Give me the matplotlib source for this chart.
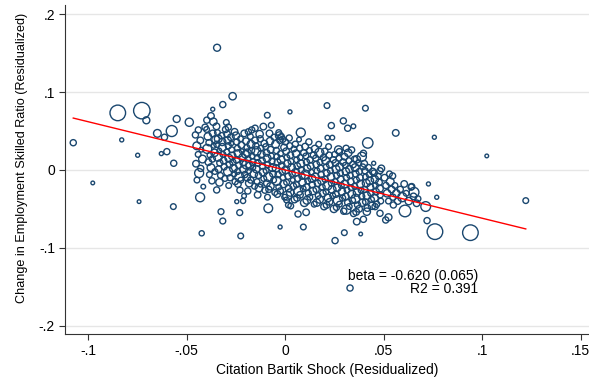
import matplotlib
matplotlib.use("Agg")
import matplotlib.pyplot as plt
import numpy as np

# outlying points
out_x = [-0.1075, -0.0976, -0.0849, -0.0727, -0.0704, -0.0829, -0.0748, -0.0741, -0.0648, -0.0575,
         -0.0550, -0.0486, -0.0565, -0.0628, -0.0600, -0.0612, -0.0567, -0.0431, -0.0415, -0.0325,
         -0.0316, -0.0423, -0.0225, -0.0230, -0.0213, -0.0085, -0.0025, 0.0093, 0.0066, 0.0107,
         0.0008, 0.0017, 0.0029, -0.0345, -0.0266, -0.0316, -0.0367, -0.0090, -0.0070, -0.0110,
         0.0025, 0.0080, 0.0213, 0.0408, 0.0235, 0.0296, 0.0318, 0.0347, 0.0562, 0.0758,
         0.1024, 0.0420, 0.0215, 0.0240, 0.0728, 0.0770, 0.0643, 0.0655, 0.0668, 0.0714,
         0.0609, 0.0550, 0.0525, 0.0511, 0.0721, 0.0761, 0.0941, 0.0384, 0.0301, 0.0254,
         0.0330, 0.1222, 0.0364, 0.0398, 0.0415, 0.0482, 0.0457, -0.0288, -0.0376, -0.0364,
         -0.0397, -0.0032, -0.0019, -0.0012, -0.0152, -0.0169, -0.0186, 0.0482, 0.0546, 0.0450,
         0.0338, 0.0310, 0.0276, 0.0398, 0.0364, 0.0390, -0.0347, -0.0245, -0.0208, -0.0440,
         -0.0406]
out_y = [0.0350, -0.0167, 0.0733, 0.0762, 0.0638, 0.0386, 0.0189, -0.0407, 0.0470, 0.0500,
         0.0655, 0.0613, 0.0086, 0.0210, 0.0235, 0.0420, -0.0471, -0.0351, -0.0214, -0.0536,
         -0.0656, -0.0814, -0.0848, -0.0548, -0.0398, -0.0493, -0.0733, -0.0733, -0.0566, -0.0544,
         -0.0386, -0.0450, -0.0463, 0.1570, 0.0947, 0.0840, 0.0780, 0.0703, 0.0574, 0.0557,
         0.0746, 0.0480, 0.0827, 0.0793, 0.0570, 0.0630, 0.0536, 0.0561, 0.0476, 0.0420,
         0.0180, 0.0347, 0.0415, 0.0415, -0.0180, -0.0351, -0.0214, -0.0287, -0.0428, -0.0470,
         -0.0527, -0.0450, -0.0608, -0.0643, -0.0651, -0.0793, -0.0806, -0.0823, -0.0806, -0.0908,
         -0.1517, -0.0394, -0.0664, -0.0634, -0.0536, -0.0557, -0.0471, 0.0549, 0.0694, 0.0620,
         0.0640, 0.0480, 0.0428, 0.0394, 0.0536, 0.0514, 0.0490, -0.0010, -0.0077, 0.0086,
         0.0257, 0.0278, 0.0235, 0.0214, 0.0137, 0.0170, -0.0257, -0.0407, -0.0334, 0.0514,
         0.0549]
out_s = [14, 5, 90, 100, 18, 6, 6, 5, 22, 45,
         18, 25, 14, 6, 14, 14, 12, 30, 8, 13,
         13, 10, 12, 13, 10, 28, 6, 12, 14, 16,
         12, 12, 12, 18, 20, 14, 6, 12, 12, 16,
         6, 30, 12, 12, 14, 14, 14, 8, 16, 6,
         5, 40, 8, 8, 6, 6, 14, 35, 16, 35,
         50, 14, 18, 14, 14, 90, 90, 5, 12, 14,
         14, 12, 16, 14, 20, 14, 14, 14, 16, 20,
         14, 12, 14, 14, 14, 14, 14, 14, 14, 6,
         14, 14, 14, 14, 20, 30, 14, 6, 8, 14,
         14]

# dense cluster, left part (x < -0.02)
left_x = [-0.0455, -0.0448, -0.0441, -0.0452, -0.0436, -0.0447, -0.0430, -0.0425, -0.0419, -0.0428,
          -0.0398, -0.0392, -0.0386, -0.0395, -0.0381, -0.0389, -0.0376, -0.0384, -0.0371, -0.0367,
          -0.0362, -0.0358, -0.0369, -0.0356, -0.0352,
          -0.0348, -0.0343, -0.0339, -0.0346, -0.0334, -0.0341, -0.0331, -0.0337, -0.0328, -0.0333,
          -0.0322, -0.0318, -0.0315, -0.0312, -0.0309, -0.0305, -0.0319, -0.0302,
          -0.0298, -0.0294, -0.0291, -0.0288, -0.0296, -0.0285, -0.0282, -0.0289, -0.0279, -0.0286,
          -0.0275, -0.0271, -0.0268, -0.0265, -0.0262, -0.0259, -0.0273, -0.0256, -0.0253,
          -0.0249, -0.0245, -0.0242, -0.0238, -0.0246, -0.0235, -0.0241, -0.0232, -0.0239, -0.0229,
          -0.0226, -0.0222, -0.0219, -0.0216, -0.0213, -0.0210, -0.0224, -0.0207, -0.0204, -0.0201]
left_y = [0.045, 0.031, 0.020, 0.008, -0.004, -0.013, 0.038, 0.026, 0.014, 0.002,
          0.052, 0.043, 0.035, 0.027, 0.019, 0.010, 0.003, -0.006, -0.014, 0.047,
          0.031, 0.022, 0.014, -0.002, 0.039,
          0.056, 0.048, 0.040, 0.033, 0.025, 0.017, 0.009, 0.001, -0.007, -0.016,
          0.044, 0.029, 0.020, 0.012, 0.004, -0.011, 0.036, 0.052,
          0.061, 0.046, 0.038, 0.031, 0.023, 0.015, 0.007, -0.002, -0.010, -0.020,
          0.042, 0.026, 0.018, 0.010, 0.002, -0.005, 0.034, 0.049, -0.015,
          0.044, 0.036, 0.028, 0.021, 0.013, 0.006, -0.002, -0.009, -0.018, -0.026,
          0.040, 0.032, 0.024, 0.016, 0.009, 0.001, -0.013, 0.047, -0.006, 0.020]
left_s = [14, 22, 12, 16, 30, 12, 16, 8, 22, 14,
          12, 20, 14, 30, 12, 16, 22, 12, 14, 16,
          8, 20, 14, 12, 22,
          16, 12, 22, 14, 8, 30, 14, 16, 12, 20,
          14, 22, 12, 16, 14, 12, 20, 14,
          12, 16, 20, 14, 12, 22, 16, 30, 14, 12,
          16, 12, 20, 14, 22, 12, 8, 16, 14,
          20, 14, 12, 22, 16, 14, 12, 30, 16, 14,
          12, 16, 8, 20, 14, 22, 12, 16, 14, 20]

# dense cluster, middle part (-0.02 < x < 0.005)
mid_x = [-0.0198, -0.0194, -0.0191, -0.0188, -0.0196, -0.0185, -0.0192, -0.0182, -0.0189, -0.0176,
         -0.0173, -0.0170, -0.0167, -0.0164, -0.0161, -0.0158, -0.0174, -0.0155, -0.0179, -0.0152,
         -0.0148, -0.0145, -0.0141, -0.0138, -0.0146, -0.0135, -0.0142, -0.0132, -0.0139, -0.0126,
         -0.0123, -0.0120, -0.0117, -0.0114, -0.0111, -0.0108, -0.0124, -0.0105, -0.0129, -0.0102,
         -0.0098, -0.0094, -0.0091, -0.0088, -0.0096, -0.0085, -0.0092, -0.0082, -0.0089, -0.0076,
         -0.0073, -0.0070, -0.0067, -0.0064, -0.0061, -0.0058, -0.0074, -0.0055, -0.0079, -0.0052,
         -0.0048, -0.0044, -0.0041, -0.0038, -0.0046, -0.0035, -0.0042, -0.0032, -0.0039, -0.0026,
         -0.0023, -0.0020, -0.0017, -0.0014, -0.0011, -0.0008, -0.0024, -0.0005, -0.0029, -0.0002,
         0.0002, 0.0006, 0.0009, 0.0012, 0.0004, 0.0015, 0.0008, 0.0018, 0.0011, 0.0024,
         0.0027, 0.0030, 0.0033, 0.0036, 0.0039, 0.0042, 0.0026, 0.0045, 0.0021, 0.0048]
mid_y = [0.037, 0.029, 0.022, 0.014, 0.007, -0.001, -0.010, -0.017, -0.027, 0.043,
         0.033, 0.025, 0.018, 0.010, 0.003, -0.005, -0.013, -0.021, 0.005, 0.038,
         0.031, 0.024, 0.016, 0.009, 0.001, -0.007, -0.015, -0.023, -0.032, 0.040,
         0.028, 0.020, 0.012, 0.005, -0.003, -0.011, -0.019, 0.034, 0.046, -0.026,
         0.030, 0.022, 0.015, 0.007, -0.001, -0.009, -0.017, -0.025, -0.035, 0.037,
         0.026, 0.018, 0.011, 0.003, -0.005, -0.013, -0.021, 0.042, 0.047, -0.029,
         0.033, 0.025, 0.017, 0.010, 0.002, -0.006, -0.014, -0.022, -0.031, 0.038,
         0.021, 0.013, 0.006, -0.002, -0.010, -0.018, -0.027, 0.029, 0.044, -0.035,
         0.036, 0.024, 0.016, 0.008, 0.000, -0.008, -0.016, -0.024, -0.033, 0.031,
         0.019, 0.011, 0.003, -0.005, -0.013, -0.021, -0.029, 0.027, 0.041, -0.038]
mid_s = [16, 12, 22, 14, 30, 12, 16, 20, 14, 12,
         22, 14, 12, 16, 8, 20, 14, 12, 22, 16,
         14, 30, 12, 16, 20, 14, 12, 22, 16, 14,
         12, 20, 16, 14, 22, 12, 8, 16, 20, 14,
         12, 16, 22, 14, 12, 30, 16, 14, 12, 20,
         16, 12, 14, 22, 16, 12, 20, 14, 16, 12,
         22, 14, 12, 16, 20, 14, 30, 12, 16, 14,
         12, 22, 16, 14, 12, 20, 14, 16, 22, 12,
         14, 16, 12, 20, 22, 14, 12, 16, 30, 14,
         16, 12, 22, 14, 8, 16, 20, 12, 14, 16]

# dense cluster, right part (0.005 < x < 0.03)
right_x = [0.0052, 0.0056, 0.0059, 0.0062, 0.0054, 0.0065, 0.0058, 0.0068, 0.0061, 0.0074,
           0.0077, 0.0080, 0.0083, 0.0086, 0.0089, 0.0092, 0.0076, 0.0095, 0.0071, 0.0098,
           0.0102, 0.0106, 0.0109, 0.0112, 0.0104, 0.0115, 0.0108, 0.0118, 0.0111, 0.0124,
           0.0127, 0.0130, 0.0133, 0.0136, 0.0139, 0.0142, 0.0126, 0.0145, 0.0121, 0.0148,
           0.0152, 0.0156, 0.0159, 0.0162, 0.0154, 0.0165, 0.0158, 0.0168, 0.0161, 0.0174,
           0.0177, 0.0180, 0.0183, 0.0186, 0.0189, 0.0192, 0.0176, 0.0195, 0.0171, 0.0198,
           0.0202, 0.0206, 0.0209, 0.0212, 0.0204, 0.0215, 0.0208, 0.0218, 0.0211, 0.0224,
           0.0227, 0.0230, 0.0233, 0.0236, 0.0239, 0.0242, 0.0226, 0.0245, 0.0221, 0.0248,
           0.0252, 0.0256, 0.0259, 0.0262, 0.0254, 0.0265, 0.0258, 0.0268, 0.0261, 0.0274,
           0.0277, 0.0280, 0.0283, 0.0286, 0.0289, 0.0292, 0.0276, 0.0295, 0.0271, 0.0298]
right_y = [0.033, 0.021, 0.013, 0.005, -0.003, -0.011, -0.019, -0.027, -0.036, 0.028,
           0.016, 0.008, 0.000, -0.008, -0.016, -0.024, -0.032, 0.022, 0.039, -0.042,
           0.030, 0.018, 0.010, 0.002, -0.006, -0.014, -0.022, -0.030, -0.039, 0.025,
           0.013, 0.005, -0.003, -0.011, -0.019, -0.027, -0.035, 0.019, 0.036, -0.044,
           0.027, 0.015, 0.007, -0.001, -0.009, -0.017, -0.025, -0.033, -0.042, 0.022,
           0.010, 0.002, -0.006, -0.014, -0.022, -0.030, -0.038, 0.016, 0.033, -0.047,
           0.024, 0.012, 0.004, -0.004, -0.012, -0.020, -0.028, -0.036, -0.045, 0.019,
           0.007, -0.001, -0.009, -0.017, -0.025, -0.033, -0.041, 0.013, 0.030, -0.050,
           0.020, 0.009, 0.001, -0.007, -0.015, -0.023, -0.031, -0.039, -0.048, 0.015,
           0.004, -0.004, -0.012, -0.020, -0.028, -0.036, -0.044, 0.010, 0.026, -0.053]
right_s = [14, 20, 12, 16, 22, 14, 12, 30, 16, 14,
           12, 22, 16, 14, 20, 12, 16, 14, 8, 22,
           16, 12, 14, 20, 30, 12, 16, 14, 22, 12,
           14, 16, 12, 22, 14, 20, 12, 16, 14, 12,
           20, 14, 16, 12, 22, 16, 14, 12, 20, 30,
           12, 16, 14, 22, 12, 16, 20, 14, 12, 16,
           14, 22, 12, 16, 14, 30, 12, 20, 16, 14,
           16, 12, 20, 14, 22, 12, 16, 14, 12, 20,
           12, 16, 22, 14, 12, 20, 16, 30, 14, 12,
           22, 14, 16, 12, 20, 14, 12, 16, 22, 14]

# dense cluster, far right part (x > 0.03)
far_x = [0.0302, 0.0306, 0.0309, 0.0312, 0.0304, 0.0315, 0.0308, 0.0318, 0.0311, 0.0324,
         0.0327, 0.0330, 0.0333, 0.0336, 0.0339, 0.0342, 0.0326, 0.0345, 0.0321, 0.0348,
         0.0352, 0.0356, 0.0359, 0.0362, 0.0354, 0.0365, 0.0358, 0.0368, 0.0361, 0.0374,
         0.0377, 0.0380, 0.0383, 0.0386, 0.0389, 0.0392, 0.0376, 0.0395,
         0.0402, 0.0406, 0.0409, 0.0412, 0.0404, 0.0415, 0.0408, 0.0418, 0.0424, 0.0427,
         0.0430, 0.0433, 0.0436, 0.0439, 0.0442, 0.0445,
         0.0452, 0.0456, 0.0459, 0.0462, 0.0454, 0.0465, 0.0474, 0.0477, 0.0480, 0.0483,
         0.0486, 0.0489,
         0.0505, 0.0512, 0.0518, 0.0525, 0.0534, 0.0541, 0.0548, 0.0558, 0.0565, 0.0572,
         0.0585, 0.0595, 0.0530,
         0.0605, 0.0615, 0.0628, 0.0640, 0.0652, 0.0675]
far_y = [0.017, 0.006, -0.002, -0.010, -0.018, -0.026, -0.034, -0.042, -0.051, 0.012,
         0.001, -0.007, -0.015, -0.023, -0.031, -0.039, -0.047, 0.007, 0.022, -0.056,
         0.014, 0.003, -0.005, -0.013, -0.021, -0.029, -0.037, -0.045, -0.054, 0.009,
         -0.002, -0.010, -0.018, -0.026, -0.034, -0.042, -0.050, 0.004,
         0.008, -0.001, -0.009, -0.017, -0.025, -0.033, -0.041, -0.049, 0.003, -0.006,
         -0.014, -0.022, -0.030, -0.038, -0.046, -0.002,
         -0.004, -0.012, -0.020, -0.028, -0.036, -0.044, -0.008, -0.016, -0.024, -0.032,
         -0.040, 0.002,
         -0.010, -0.020, -0.030, -0.040, -0.015, -0.025, -0.035, -0.020, -0.030, -0.040,
         -0.025, -0.035, -0.005,
         -0.018, -0.030, -0.040, -0.022, -0.034, -0.037]
far_s = [16, 12, 20, 14, 22, 12, 16, 14, 30, 12,
         20, 14, 16, 12, 22, 14, 12, 16, 20, 14,
         12, 22, 16, 14, 12, 20, 30, 14, 16, 12,
         14, 16, 22, 12, 14, 20, 16, 12,
         16, 14, 12, 22, 14, 20, 12, 16, 14, 12,
         22, 16, 14, 12, 20, 16,
         14, 20, 12, 16, 22, 14, 12, 16, 20, 14,
         12, 16,
         16, 14, 20, 12, 22, 16, 14, 12, 20, 16,
         14, 30, 12,
         16, 12, 20, 14, 16, 12]

# fitted line
fit_x = [-0.1075, 0.1222]
beta = -0.620

navy = "#1a476f"

plt.rcParams['font.family'] = ['Liberation Sans', 'DejaVu Sans']

fig = plt.figure(figsize=(5.89, 3.80), dpi=100)
ax = fig.add_axes([0.11, 0.121, 0.89, 0.866])

for gx, gy, gs in [(left_x, left_y, left_s), (mid_x, mid_y, mid_s),
                   (right_x, right_y, right_s), (far_x, far_y, far_s),
                   (out_x, out_y, out_s)]:
    ax.scatter(gx, gy, s=np.array(gs) * 1.4, facecolors='none', edgecolors=navy,
               linewidths=1.0, zorder=3)

fx = np.array(fit_x)
ax.plot(fx, beta * fx, color='red', lw=1.0, zorder=4)

ax.set_xlim(-0.1118, 0.1543)
ax.set_ylim(-0.2108, 0.212)

xt = [-0.1, -0.05, 0, 0.05, 0.1, 0.15]
xtl = ['-.1', '-.05', '0', '.05', '.1', '.15']
yt = [-0.2, -0.1, 0, 0.1, 0.2]
ytl = ['-.2', '-.1', '0', '.1', '.2']
ax.set_xticks(xt)
ax.set_xticklabels(xtl)
ax.set_yticks(yt)
ax.set_yticklabels(ytl)
ax.tick_params(labelsize=10, length=4, width=0.8, color='#333333', pad=3)

ax.yaxis.grid(True, color='#e6e6e6', lw=1.0, zorder=0)
ax.set_axisbelow(True)
for side in ['top', 'right']:
    ax.spines[side].set_visible(False)
for side in ['left', 'bottom']:
    ax.spines[side].set_color('#333333')
    ax.spines[side].set_linewidth(0.8)

ax.set_xlabel('Citation Bartik Shock (Residualized)', fontsize=10, labelpad=4)
ax.set_ylabel('Change in Employment Skilled Ratio (Residualized)', fontsize=9.1)
ax.yaxis.set_label_coords(-0.071, 0.535)

ax.text(0.098, -0.1446, 'beta = -0.620 (0.065)\nR2 = 0.391', fontsize=10,
        ha='right', va='center', linespacing=0.95, multialignment='right')

fig.savefig('out.png', dpi=100)
